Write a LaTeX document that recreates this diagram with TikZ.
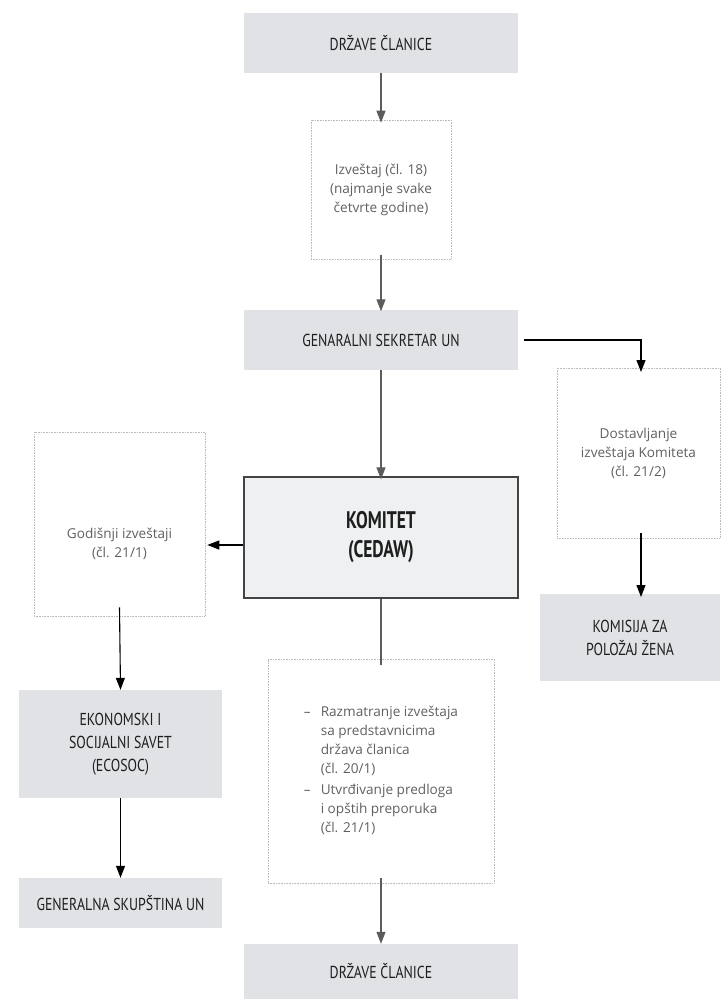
\documentclass[tikz,border=0pt]{standalone}
\usepackage{fontspec}
\setmainfont{Open Sans}
\newfontfamily\headfont[FakeStretch=0.8]{PT Sans}
\newfontfamily\komfont[FakeStretch=0.73]{PT Sans}
\usetikzlibrary{arrows.meta}
\definecolor{boxgray}{HTML}{E0E2E5}
\definecolor{komfill}{HTML}{EEF0F1}
\definecolor{komline}{HTML}{444444}
\definecolor{dotline}{HTML}{BBBBBB}
\definecolor{bodytext}{HTML}{606060}
\definecolor{headtext}{HTML}{1E1E1E}
\definecolor{midline}{HTML}{5C5C5C}
\begin{document}
\begin{tikzpicture}[x=1pt,y=-1pt,
  graybox/.style={fill=boxgray, draw=none, inner sep=0pt, align=center,
    font=\headfont\fontsize{17.3}{23}\selectfont, text=headtext},
  dotbox/.style={draw=dotline, densely dotted, line width=0.6pt, inner sep=0pt, align=center,
    font=\fontsize{13.6}{19}\selectfont, text=bodytext},
  kombox/.style={fill=komfill, draw=komline, line width=1.2pt, inner sep=0pt, align=center,
    font=\komfont\bfseries\fontsize{24}{29}\selectfont, text=headtext},
  arr/.style={line width=1.1pt, -{Triangle[length=12pt,width=9pt]}},
  plain/.style={line width=1.1pt},
  mid/.style={draw=midline}
]
\useasboundingbox (0,0) rectangle (721,999);

\node[graybox, minimum width=274, minimum height=60] (d1) at (381,43) {DRŽAVE ČLANICE};
\node[dotbox, minimum width=140, minimum height=139] (rep) at (381,189.5)
  {Izveštaj (čl. 18)\\(najmanje svake\\četvrte godine)};
\node[graybox, minimum width=274, minimum height=60] (gs) at (381,340) {GENARALNI SEKRETAR UN};
\node[kombox, minimum width=274, minimum height=121] (kom) at (381,537.5) {KOMITET\\(CEDAW)};
\node[dotbox, minimum width=163, minimum height=170] (dost) at (638.5,453)
  {Dostavljanje\\izveštaja Komiteta\\(čl. 21/2)};
\node[graybox, minimum width=180, minimum height=87] (kzpz) at (630,637.5) {KOMISIJA ZA\\POLOŽAJ ŽENA};
\node[dotbox, minimum width=171, minimum height=184] (god) at (119.5,524) {};
\node[font=\fontsize{13.6}{19}\selectfont, text=bodytext, align=center, inner sep=0pt]
  (godt) at (119.5,544) {Godišnji izveštaji\\(čl. 21/1)};
\node[graybox, minimum width=203, minimum height=108] (eco) at (120.5,744)
  {EKONOMSKI I\\SOCIJALNI SAVET\\(ECOSOC)};
\node[graybox, minimum width=203, minimum height=50] (ga) at (120.5,903) {GENERALNA SKUPŠTINA UN};
\node[dotbox, minimum width=226, minimum height=224] (raz) at (381,771)
  {\begin{tabular}{@{}l@{\hspace{10pt}}l@{}}
   – & Razmatranje izveštaja\\
     & sa predstavnicima\\
     & država članica\\
     & (čl. 20/1)\\[2pt]
   – & Utvrđivanje predloga\\
     & i opštih preporuka\\
     & (čl. 21/1)
   \end{tabular}};
\node[graybox, minimum width=274, minimum height=55] (d2) at (381,971.5) {DRŽAVE ČLANICE};

% connectors (yshift is in page units: negative = further down)
\coordinate (gsr) at ([xshift=6pt]gs.east);
\coordinate (dtop) at (641,372);
\coordinate (dbot) at (641,533);
\coordinate (kzt) at (641,597);
\coordinate (komw) at ([yshift=-7.5pt]kom.west);
\coordinate (godb) at ([yshift=9pt]god.south);
\coordinate (repb) at ([yshift=4pt]rep.south);
\coordinate (razt) at ([yshift=-6pt]raz.north);
\coordinate (razb) at ([yshift=5pt]raz.south);

\draw[arr, mid] (d1.south) -- ([yshift=-3pt]rep.north);
\draw[arr, mid] (repb) -- ([yshift=-1.5pt]gs.north);
\draw[arr, mid] (gs.south) -- ([yshift=-3pt]kom.north);
\draw[arr] (gsr) -| (dtop);
\draw[arr] (dbot) -- (kzt);
\draw[arr] (komw) -- ([xshift=2pt]komw -| god.east);
\draw[arr] (godb) -- (eco.north);
\draw[arr] (eco.south) -- (ga.north);
\draw[plain, mid] (kom.south) -- (razt);
\draw[arr, mid] (razb) -- (d2.north);
\end{tikzpicture}
\end{document}
